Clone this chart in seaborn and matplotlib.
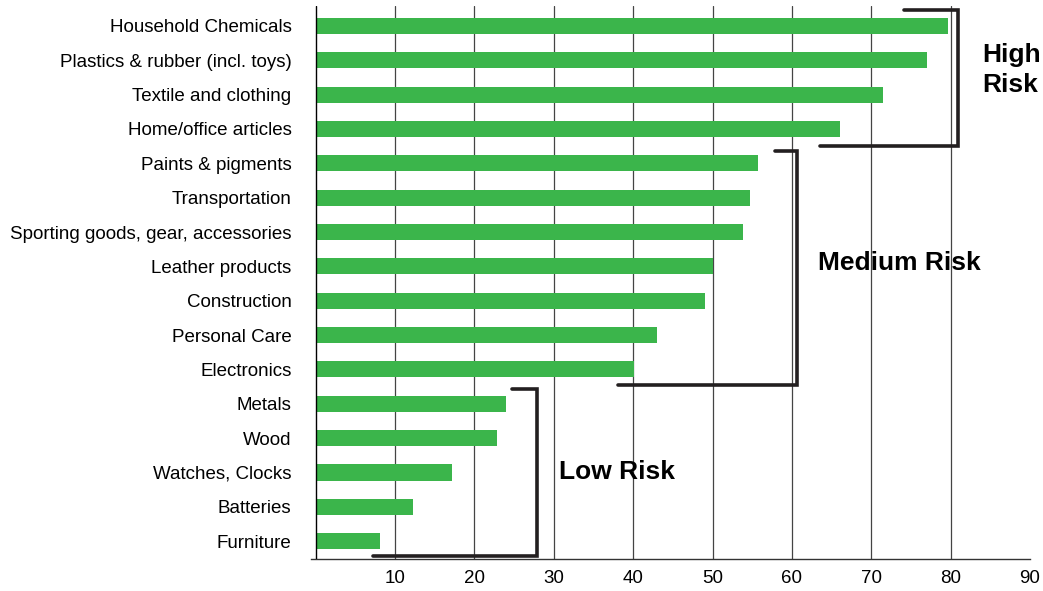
import numpy as np
import pandas as pd
import matplotlib
matplotlib.use('Agg')
import matplotlib.pyplot as plt
import seaborn as sns

# Categories (top to bottom) and values
categories = [
    'Household Chemicals',
    'Plastics & rubber (incl. toys)',
    'Textile and clothing',
    'Home/office articles',
    'Paints & pigments',
    'Transportation',
    'Sporting goods, gear, accessories',
    'Leather products',
    'Construction',
    'Personal Care',
    'Electronics',
    'Metals',
    'Wood',
    'Watches, Clocks',
    'Batteries',
    'Furniture',
]
values = [79.7, 77.0, 71.5, 66.0, 55.7, 54.7, 53.8, 50.0, 49.0, 43.0, 40.1,
          24.0, 22.8, 17.2, 12.2, 8.1]

x_ticks = [0, 10, 20, 30, 40, 50, 60, 70, 80, 90]
x_ticklabels = ['', '10', '20', '30', '40', '50', '60', '70', '80', '90']

# risk group brackets: (label, x_top_start, x_bottom_start, x_vertical, y_top, y_bottom, text_x, text_y)
groups = [
    ('High\nRisk', 74.1, 63.6, 80.9, -0.47, 3.50, 84.0, 1.28),
    ('Medium Risk', 57.9, 38.1, 60.7, 3.64, 10.46, 63.3, 6.9),
    ('Low Risk', 24.7, 7.2, 27.9, 10.57, 15.44, 30.6, 13.0),
]

df = pd.DataFrame({'category': categories, 'value': values})

sns.set_style('white')
plt.rcParams['font.family'] = ['Liberation Sans', 'DejaVu Sans']
plt.rcParams['text.color'] = 'black'
plt.rcParams['xtick.color'] = 'black'
plt.rcParams['ytick.color'] = 'black'

fig = plt.figure(figsize=(10.43, 5.91), dpi=100)
ax = fig.add_axes([0.2982, 0.0541, 0.6893, 0.9357])

sns.barplot(data=df, y='category', x='value', orient='h', color='#3bb54b',
            saturation=1, width=0.47, linewidth=0, ax=ax, zorder=3)

ax.set_xlim(-0.6, 90)
ax.set_ylim(15.52, -0.58)

# vertical gridlines (none at 90)
for t in x_ticks[1:-1]:
    ax.axvline(t, color='#444444', lw=0.9, zorder=1)
ax.axvline(0, color='black', lw=1.0, zorder=4)

for s in ['top', 'right', 'left']:
    ax.spines[s].set_visible(False)
ax.spines['bottom'].set_color('#333333')
ax.spines['bottom'].set_linewidth(1.0)

ax.set_xticks(x_ticks)
ax.set_xticklabels(x_ticklabels, fontsize=13.5)
ax.tick_params(axis='x', direction='out', length=3, width=0.9, color='black', pad=5)
ax.xaxis.get_major_ticks()[-1].tick1line.set_visible(False)

ax.tick_params(axis='y', which='major', length=0, pad=14, labelsize=13.5)
ax.set_yticks(np.arange(len(categories)) + 0.5, minor=True)
ax.tick_params(axis='y', which='minor', direction='inout', length=4, width=0.9, color='black')

ax.set_xlabel('')
ax.set_ylabel('')

# brackets and group labels
for label, x_top, x_bot, x_v, y_top, y_bot, tx, ty in groups:
    ax.plot([x_top, x_v, x_v, x_bot], [y_top, y_top, y_bot, y_bot],
            color='#231f20', lw=2.6, solid_joinstyle='miter', zorder=5, clip_on=False)
    ax.text(tx, ty, label, fontsize=19, fontweight='bold', ha='left', va='center',
            linespacing=1.35, clip_on=False)

fig.savefig('out.png', dpi=100)
plt.close('all')
